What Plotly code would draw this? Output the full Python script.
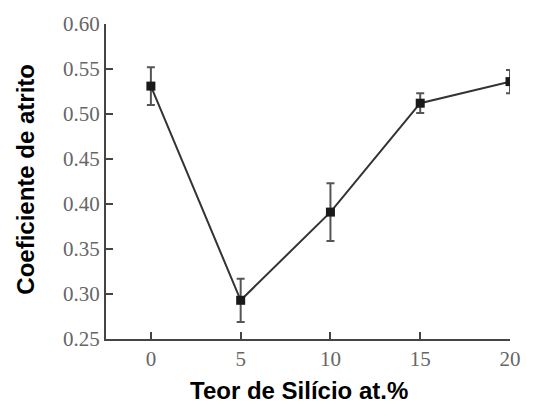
import plotly.graph_objects as go

teor = [0, 5, 10, 15, 20]
atrito = [0.531, 0.293, 0.391, 0.512, 0.536]
erro = [0.021, 0.024, 0.032, 0.011, 0.013]
x_ticks = [0, 5, 10, 15, 20]
y_ticks = [0.25, 0.30, 0.35, 0.40, 0.45, 0.50, 0.55, 0.60]

fig = go.Figure()
fig.add_trace(go.Scatter(
    x=teor, y=atrito, mode="lines+markers",
    line=dict(color="#333333", width=2),
    marker=dict(symbol="square", size=9, color="#1a1a1a"),
    error_y=dict(type="data", array=erro, visible=True, color="#555555", thickness=2, width=4),
    showlegend=False,
))

tick_font = dict(family="Liberation Serif, Times New Roman, serif", size=21, color="#666666")
title_font = dict(family="Liberation Sans, Arial, sans-serif", size=24, color="#000000")

fig.update_layout(
    width=533, height=407,
    margin=dict(l=106, r=12, t=23, b=68),
    plot_bgcolor="white", paper_bgcolor="white",
    xaxis=dict(
        range=[-2.5, 20], tickvals=x_ticks, ticktext=[str(v) for v in x_ticks],
        showgrid=False, zeroline=False, showline=True, linecolor="#444444", linewidth=2,
        ticks="inside", ticklen=7, tickwidth=2, tickcolor="#444444",
        tickfont=tick_font,
    ),
    yaxis=dict(
        range=[0.25, 0.60], tickvals=y_ticks, ticktext=[f"{v:.2f}" for v in y_ticks],
        showgrid=False, zeroline=False, showline=True, linecolor="#444444", linewidth=2,
        ticks="inside", ticklen=7, tickwidth=2, tickcolor="#444444",
        tickfont=tick_font,
    ),
    annotations=[
        dict(text="<b>Teor de Silício at.%</b>", xref="paper", yref="paper",
             x=(304 - 106) / 415, y=-(391 - 339) / 316, xanchor="center", yanchor="middle",
             showarrow=False, font=title_font),
        dict(text="<b>Coeficiente de atrito</b>", xref="paper", yref="paper",
             x=-(106 - 23) / 415, y=(339 - 179) / 316, xanchor="center", yanchor="middle",
             textangle=-90, showarrow=False, font=title_font),
    ],
)

fig.write_html("out.html")
